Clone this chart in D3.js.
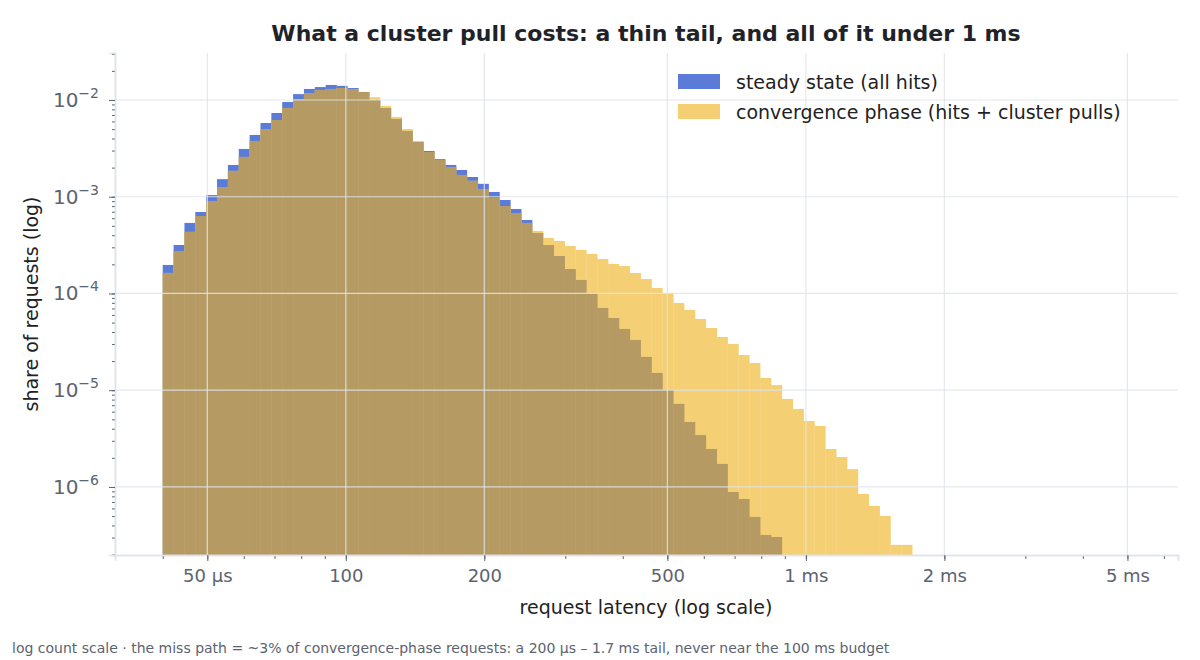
<!DOCTYPE html>
<html><head><meta charset="utf-8">
<script src="https://cdn.jsdelivr.net/npm/d3@7"></script>
<style>body{margin:0;background:#fff;font-family:"DejaVu Sans",sans-serif}</style>
</head><body><div id="chart"></div>
<script>
// bins: log-spaced from 40 µs, 0.02361 decades wide
const binStart = 40, binStep = 0.02361;
const steady = [1.97e-4,3.17e-4,5.36e-4,6.95e-4,1.04e-3,1.52e-3,2.13e-3,3.12e-3,4.35e-3,5.78e-3,
  7.34e-3,9.53e-3,1.15e-2,1.30e-2,1.36e-2,1.43e-2,1.40e-2,1.33e-2,1.21e-2,1.0e-2,
  8.27e-3,6.37e-3,4.79e-3,3.68e-3,2.97e-3,2.45e-3,2.13e-3,1.89e-3,1.60e-3,1.36e-3,
  1.12e-3,9.25e-4,7.47e-4,5.75e-4,4.22e-4,3.17e-4,2.44e-4,1.79e-4,1.38e-4,1.01e-4,
  7.08e-5,5.58e-5,4.30e-5,3.31e-5,2.21e-5,1.51e-5,1.01e-5,7.22e-6,4.70e-6,3.44e-6,
  2.47e-6,1.73e-6,8.87e-7,7.51e-7,4.90e-7,3.19e-7,3.04e-7];
const convergence = [1.63e-4,2.75e-4,4.33e-4,6.32e-4,9.04e-4,1.26e-3,1.85e-3,2.58e-3,3.77e-3,5.01e-3,
  6.21e-3,8.27e-3,1.02e-2,1.18e-2,1.27e-2,1.30e-2,1.33e-2,1.30e-2,1.21e-2,1.07e-2,
  8.67e-3,6.67e-3,5.01e-3,3.77e-3,2.90e-3,2.40e-3,2.03e-3,1.68e-3,1.46e-3,1.20e-3,
  9.71e-4,8.02e-4,6.79e-4,5.36e-4,4.43e-4,3.75e-4,3.49e-4,3.10e-4,2.82e-4,2.56e-4,
  2.27e-4,2.02e-4,1.92e-4,1.63e-4,1.41e-4,1.14e-4,1.01e-4,7.98e-5,6.75e-5,5.45e-5,
  4.40e-5,3.55e-5,3.01e-5,2.31e-5,1.91e-5,1.34e-5,1.13e-5,8.13e-6,6.40e-6,4.81e-6,
  4.27e-6,2.47e-6,2.04e-6,1.53e-6,8.47e-7,6.37e-7,5.01e-7,2.52e-7,2.52e-7];
const xTicks = [50, 100, 200, 500, 1000, 2000, 5000];
const xTickLabels = ["50 µs", "100", "200", "500", "1 ms", "2 ms", "5 ms"];
const yTicks = [1e-6, 1e-5, 1e-4, 1e-3, 1e-2];
const seriesNames = ["steady state (all hits)", "convergence phase (hits + cluster pulls)"];

const W = 1200, H = 660;
const m = {l: 115, r: 22, t: 53, b: 105};
const svg = d3.select("#chart").append("svg").attr("width", W).attr("height", H);
const x = d3.scaleLog().domain([31.5, 6440]).range([m.l, W - m.r]);
const y = d3.scaleLog().domain([1.98e-7, 0.0306]).range([H - m.b, m.t]);
const edge = i => binStart * Math.pow(10, i * binStep);

const g = svg.append("g");
function bars(vals, color) {
  g.append("g").selectAll("rect").data(vals).join("rect")
    .attr("x", (d, i) => x(edge(i)))
    .attr("width", (d, i) => x(edge(i + 1)) - x(edge(i)) + 0.3)
    .attr("y", d => y(d))
    .attr("height", d => y.range()[0] - y(d))
    .attr("fill", color);
}
bars(steady, "#5b7bd9");
bars(convergence, "#f5cf74");
bars(steady.map((v, i) => Math.min(v, convergence[i])), "#b59b63");

// grid
const minorX = [];
[10, 100, 1000].forEach(b => d3.range(1, 10).forEach(k => { const v = b * k; if (v > 31.5 && v < 6440) minorX.push(v); }));
const minorY = [];
[1e-7, 1e-6, 1e-5, 1e-4, 1e-3, 1e-2].forEach(b => d3.range(1, 10).forEach(k => { const v = b * k; if (v > 1.98e-7 && v < 0.0306) minorY.push(v); }));
const grid = svg.append("g").attr("stroke", "#dfe4eb").attr("stroke-opacity", 0.85).attr("stroke-width", 1.2);
grid.selectAll(".gx").data(xTicks).join("line")
  .attr("x1", d => x(d)).attr("x2", d => x(d)).attr("y1", m.t).attr("y2", H - m.b);
grid.selectAll(".gy").data(yTicks).join("line")
  .attr("y1", d => y(d)).attr("y2", d => y(d)).attr("x1", m.l).attr("x2", W - m.r);

// axes
const axisCol = "#5c6370";
const xa = svg.append("g").attr("transform", `translate(0,${H - m.b})`);
xa.call(d3.axisBottom(x).tickValues(minorX).tickSize(4).tickFormat(""));
xa.call(g2 => g2.append("g").call(d3.axisBottom(x).tickValues(xTicks).tickSize(6).tickPadding(8)
  .tickFormat((d, i) => xTickLabels[i])));
xa.selectAll("path.domain").attr("stroke", "#dfe4eb").attr("stroke-width", 1.5);
xa.selectAll("line").attr("stroke", axisCol);
xa.selectAll("text").attr("fill", axisCol).attr("font-size", 18).attr("font-family", "DejaVu Sans");

const ya = svg.append("g").attr("transform", `translate(${m.l},0)`);
ya.call(d3.axisLeft(y).tickValues(minorY).tickSize(3).tickFormat(""));
ya.call(g2 => g2.append("g").call(d3.axisLeft(y).tickValues(yTicks).tickSize(6).tickPadding(8).tickFormat("")));
ya.selectAll("path.domain").attr("stroke", "#dfe4eb").attr("stroke-width", 1.5);
ya.selectAll("line").attr("stroke", axisCol);
yTicks.forEach(t => {
  const tx = svg.append("text").attr("x", m.l - 16).attr("y", y(t) + 7).attr("text-anchor", "end")
    .attr("fill", axisCol).attr("font-size", 20);
  tx.append("tspan").text("10");
  tx.append("tspan").attr("dy", -9).attr("font-size", 14).text("−" + Math.round(-Math.log10(t)));
});

svg.append("text").attr("x", 646).attr("y", 614).attr("text-anchor", "middle")
  .attr("font-size", 19).attr("fill", "#222").text("request latency (log scale)");
svg.append("text").attr("transform", `translate(38,${(m.t + H - m.b) / 2}) rotate(-90)`)
  .attr("text-anchor", "middle").attr("font-size", 19).attr("fill", "#222").text("share of requests (log)");
svg.append("text").attr("x", 646).attr("y", 41).attr("text-anchor", "middle")
  .attr("font-size", 22).attr("font-weight", "bold").attr("fill", "#1f2329")
  .text("What a cluster pull costs: a thin tail, and all of it under 1 ms");
svg.append("text").attr("x", 12).attr("y", 653).attr("font-size", 14).attr("fill", "#5c6370")
  .text("log count scale · the miss path = ~3% of convergence-phase requests: a 200 µs – 1.7 ms tail, never near the 100 ms budget");

// legend
const lg = svg.append("g").attr("transform", "translate(678,74)");
[["#5b7bd9", 0], ["#f5cf74", 1]].forEach(([c, i]) => {
  lg.append("rect").attr("x", 0).attr("y", i * 30).attr("width", 42).attr("height", 15).attr("fill", c);
  lg.append("text").attr("x", 58).attr("y", i * 30 + 15).attr("font-size", 19).attr("fill", "#222").text(seriesNames[i]);
});
</script></body></html>
